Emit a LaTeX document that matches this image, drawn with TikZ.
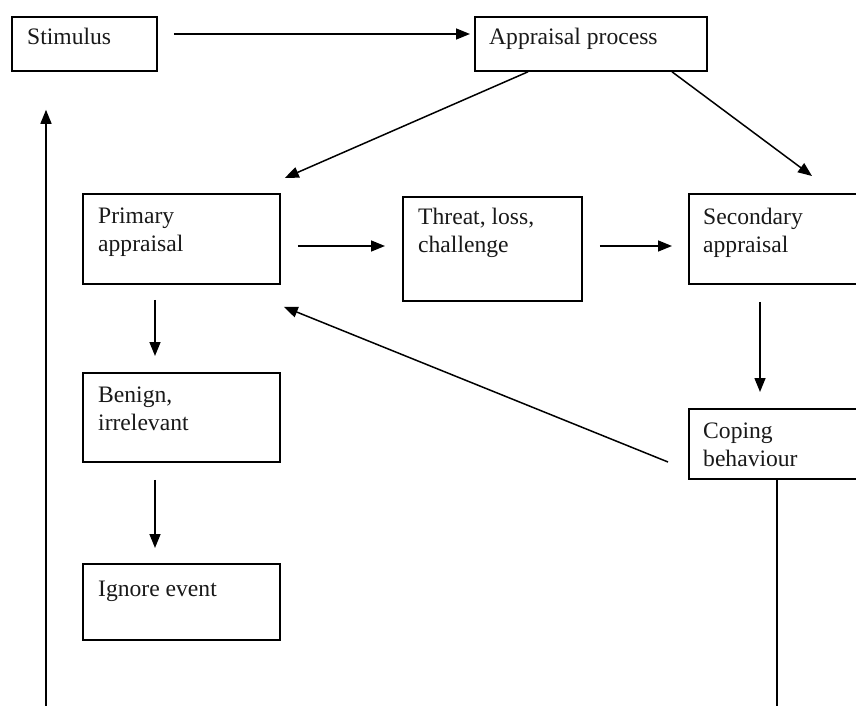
\documentclass[tikz,border=0pt]{standalone}
\usepackage{fontspec}
\setmainfont{Liberation Serif}
\usetikzlibrary{arrows.meta,calc}
\tikzset{
  box/.style={draw=black, line width=1.8pt, rectangle, inner sep=0pt, anchor=north west},
  lbl/.style={anchor=north west, align=left, inner sep=0pt, font=\fontsize{23.6}{27.5}\selectfont, text=black!90},
  arr/.style={line width=1.5pt, -{Triangle[length=14pt,width=11pt]}},
  ln/.style={line width=1.5pt}
}
\begin{document}
\begin{tikzpicture}[x=1pt,y=-1pt]
\useasboundingbox (0,0) rectangle (856,706);
\fill[white] (0,0) rectangle (856,706);
% boxes
\node[box, minimum width=145pt, minimum height=54pt] (stim) at (11,16) {};
\node[box, minimum width=232pt, minimum height=54pt] (appr) at (474,16) {};
\node[box, minimum width=197pt, minimum height=90pt] (prim) at (82,193) {};
\node[box, minimum width=179pt, minimum height=104pt] (thr) at (402,196) {};
\node[box, minimum width=190pt, minimum height=90pt] (sec) at (688,193) {};
\node[box, minimum width=190pt, minimum height=70pt] (cope) at (688,408) {};
\node[box, minimum width=197pt, minimum height=89pt] (ben) at (82,372) {};
\node[box, minimum width=197pt, minimum height=76pt] (ign) at (82,563) {};
% labels
\node[lbl] (tstim) at ($(stim.north west)+(16,12)$) {Stimulus};
\node[lbl] (tappr) at ($(appr.north west)+(15,12)$) {Appraisal process};
\node[lbl] (tprim) at ($(prim.north west)+(16,15)$) {Primary\\appraisal};
\node[lbl] (tthr) at ($(thr.north west)+(16,12)$) {Threat, loss,\\challenge};
\node[lbl] (tsec) at ($(sec.north west)+(15,15)$) {Secondary\\appraisal};
\node[lbl] (tcope) at ($(cope.north west)+(15,15)$) {Coping\\behaviour};
\node[lbl] (tben) at ($(ben.north west)+(16,15)$) {Benign,\\irrelevant};
\node[lbl] (tign) at ($(ign.north west)+(16,18)$) {Ignore event};
% coordinates for free ends
\coordinate (botL) at (46,706);
\coordinate (botR) at (777,706);
% connectors
\draw[arr] ($(stim.north east)+(16,18)$) -- ($(appr.north west)+(-4,18)$);
\draw[arr] ($(appr.south west)+(54,0)$) -- ($(prim.north east)+(4,-15)$);
\draw[arr] ($(appr.south west)+(198,0)$) -- ($(sec.north west)+(124,-17)$);
\draw[arr] ($(prim.north east)+(17,53)$) -- ($(thr.north west)+(-17,50)$);
\draw[arr] ($(thr.north east)+(17,50)$) -- ($(sec.north west)+(-16,53)$);
\draw[arr] ($(sec.south west)+(72,17)$) -- ($(cope.north west)+(72,-16)$);
\draw[arr] ($(cope.north west)+(-20,54)$) -- ($(prim.south east)+(3,22)$);
\draw[arr] ($(prim.south west)+(73,15)$) -- ($(ben.north west)+(73,-16)$);
\draw[arr] ($(ben.south west)+(73,17)$) -- ($(ign.north west)+(73,-15)$);
\draw[arr] (botL) -- ($(stim.south west)+(35,38)$);
\draw[ln] ($(cope.south west)+(89,0)$) -- (botR);
\end{tikzpicture}
\end{document}
